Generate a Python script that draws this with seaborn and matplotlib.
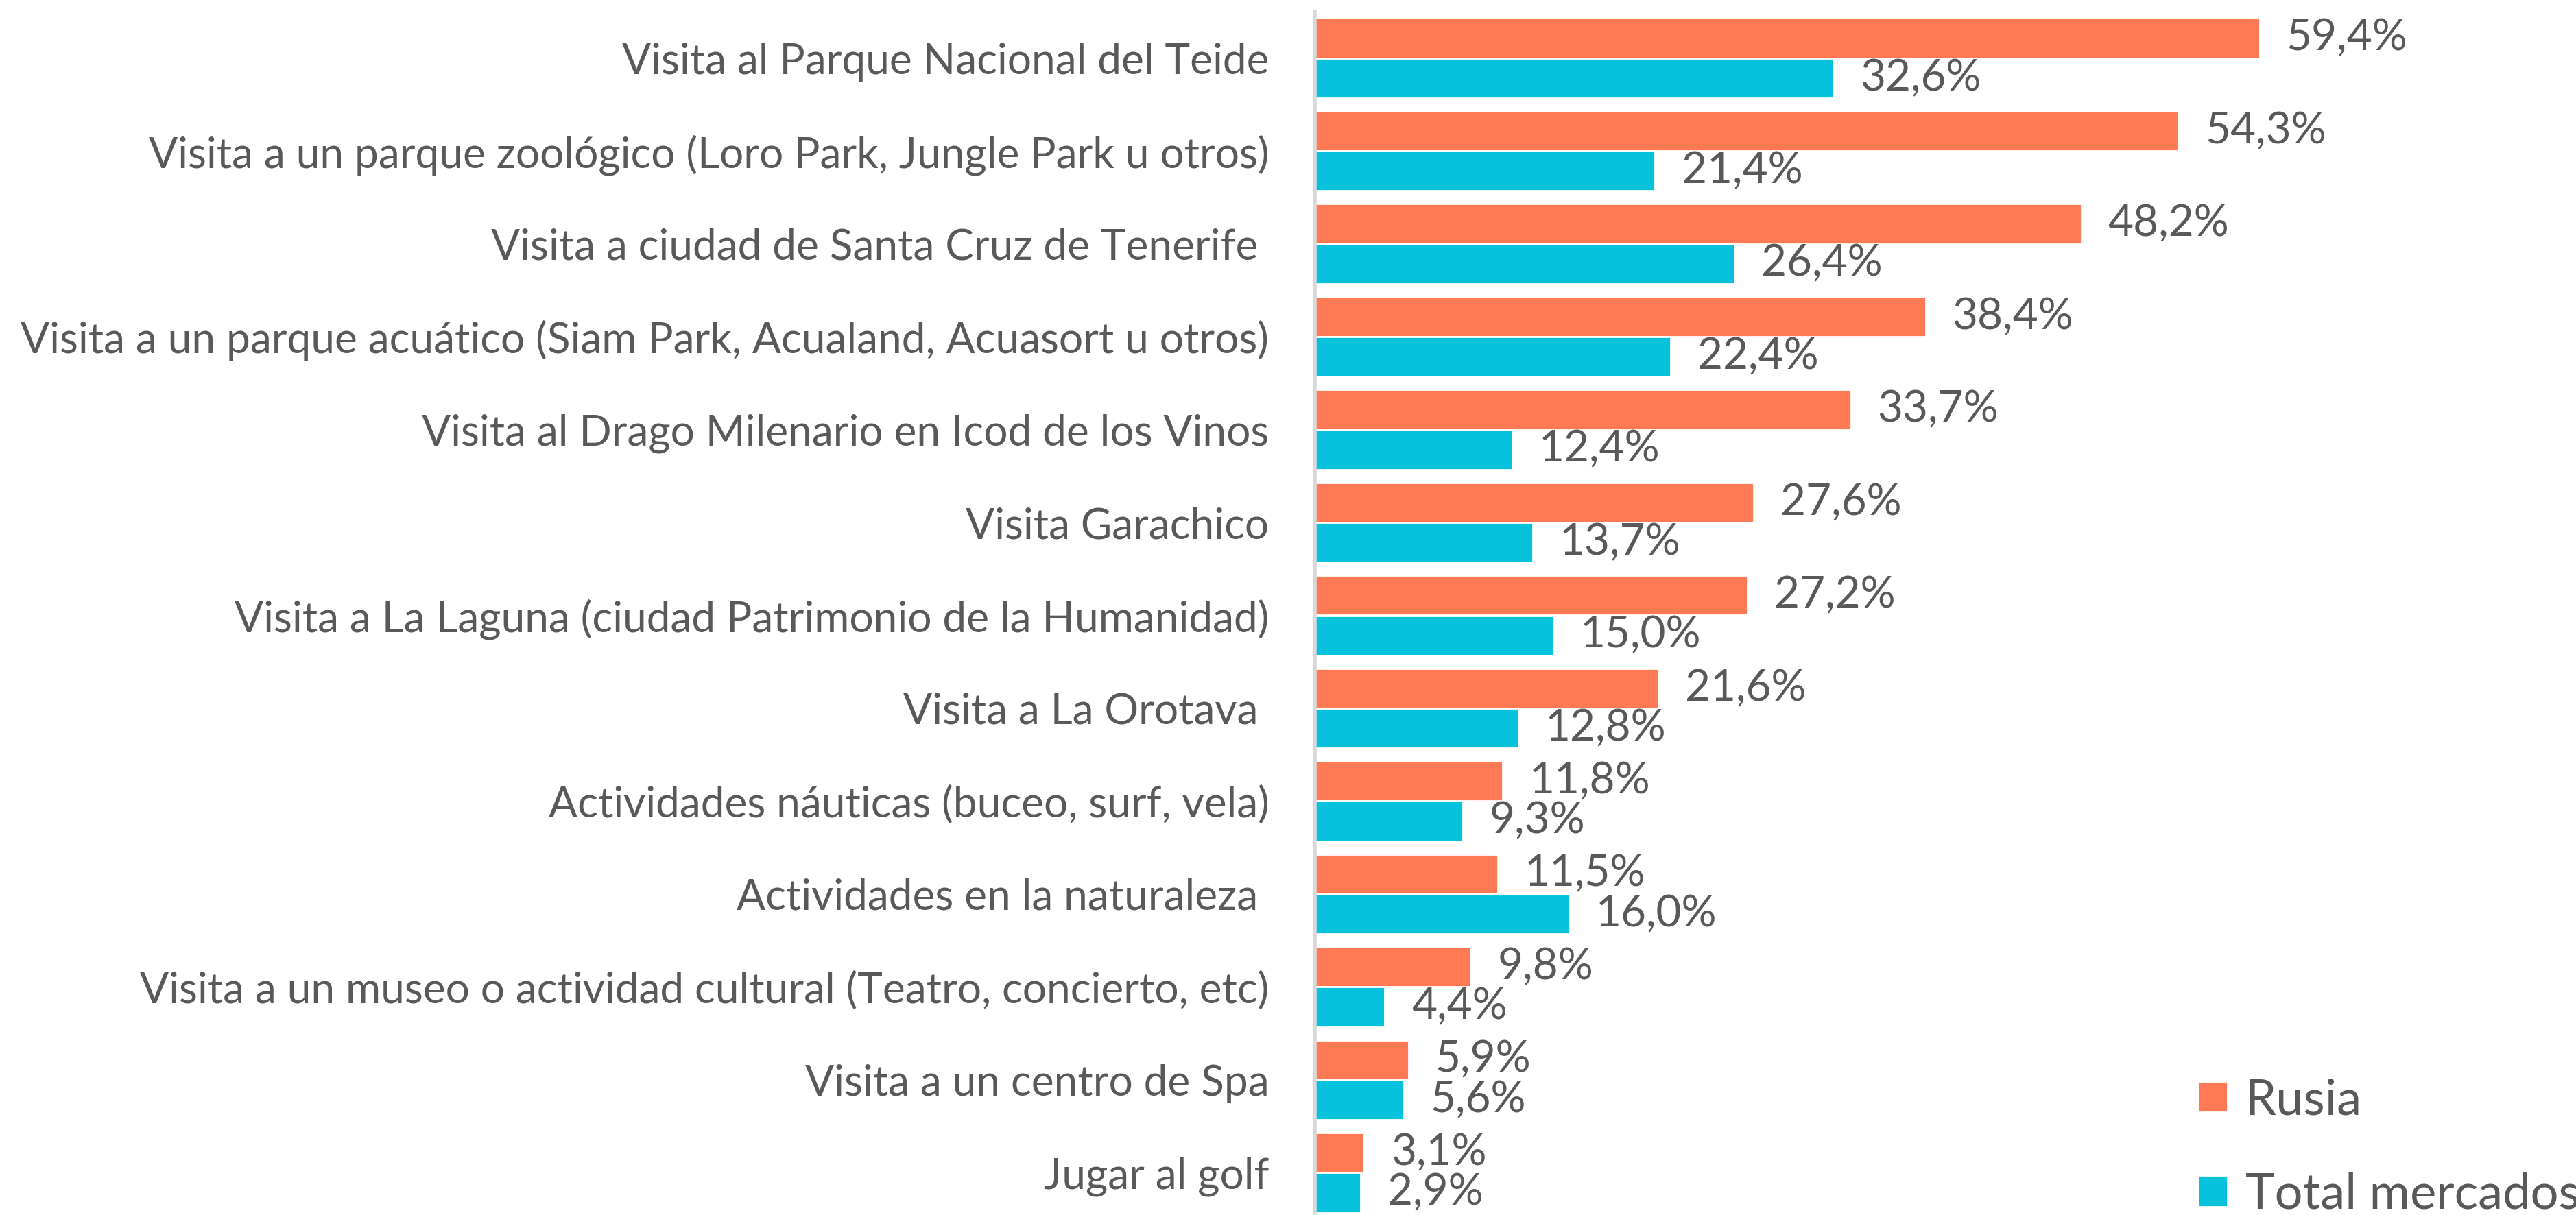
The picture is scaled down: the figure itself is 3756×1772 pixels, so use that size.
import matplotlib
matplotlib.use("Agg")
import matplotlib.pyplot as plt
import seaborn as sns
import pandas as pd

categories = [
    "Visita al Parque Nacional del Teide",
    "Visita a un parque zoológico (Loro Park, Jungle Park u otros)",
    "Visita a ciudad de Santa Cruz de Tenerife ",
    "Visita a un parque acuático (Siam Park, Acualand, Acuasort u otros)",
    "Visita al Drago Milenario en Icod de los Vinos",
    "Visita Garachico",
    "Visita a La Laguna (ciudad Patrimonio de la Humanidad)",
    "Visita a La Orotava ",
    "Actividades náuticas (buceo, surf, vela)",
    "Actividades en la naturaleza ",
    "Visita a un museo o actividad cultural (Teatro, concierto, etc)",
    "Visita a un centro de Spa",
    "Jugar al golf",
]
rusia = [59.4, 54.3, 48.2, 38.4, 33.7, 27.6, 27.2, 21.6, 11.8, 11.5, 9.8, 5.9, 3.1]
total = [32.6, 21.4, 26.4, 22.4, 12.4, 13.7, 15.0, 12.8, 9.3, 16.0, 4.4, 5.6, 2.9]
series = ["Rusia", "Total mercados"]
colors = ["#FF7A54", "#06C2DD"]

df = pd.DataFrame({
    "Actividad": categories * 2,
    "Valor": rusia + total,
    "Serie": [series[0]] * len(categories) + [series[1]] * len(categories),
})

sns.set_theme(style="white")
plt.rcParams["font.family"] = ["Lato", "DejaVu Sans"]
text_color = "#595959"

W, H, DPI = 3756, 1772, 200
fig = plt.figure(figsize=(W / DPI, H / DPI), dpi=DPI)
ax = fig.add_axes([1917 / W, -6 / H, 1 - 1917 / W, (1772 - 17 + 6) / H])

sns.barplot(data=df, y="Actividad", x="Valor", hue="Serie", order=categories,
            hue_order=series, palette=colors, orient="h", width=0.86,
            saturation=1, ax=ax, legend=True)

ax.set_xlim(0, 79.3)
ax.set_ylim(len(categories) - 0.5, -0.5)
ax.set_xlabel("")
ax.set_ylabel("")
ax.set_xticks([])
ax.tick_params(axis="y", length=0, pad=24, labelsize=22.4, labelcolor=text_color)
for s in ["top", "right", "bottom"]:
    ax.spines[s].set_visible(False)
ax.spines["left"].set_color("#D9D9D9")
ax.spines["left"].set_linewidth(2)

for cont in ax.containers:
    labels = [f"{v:.1f}".replace(".", ",") + "%" for v in cont.datavalues]
    texts = ax.bar_label(cont, labels=labels, padding=14, fontsize=23, color=text_color)
    for t in texts:
        t.set_y(t.get_position()[1])
        t.set_va("center")

handles, labs = ax.get_legend_handles_labels()
ax.legend_.remove()
fig.legend(handles, labs, loc="upper left",
           bbox_to_anchor=(3205 / W, 1 - 1572 / H), frameon=False,
           fontsize=26, labelcolor=text_color, handlelength=0.6,
           handleheight=0.6, handletextpad=0.35, labelspacing=1.0,
           borderpad=0, borderaxespad=0)

fig.savefig("out.png", dpi=DPI)
